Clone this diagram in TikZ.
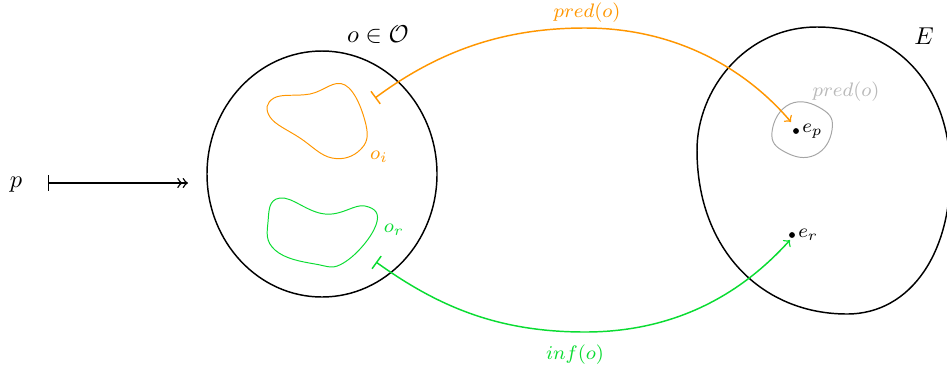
\documentclass[tikz,border=0pt]{standalone}
\usetikzlibrary{arrows}
\definecolor{predorange}{RGB}{255,150,0}
\definecolor{infgreen}{RGB}{10,220,50}
\definecolor{blobgray}{RGB}{165,165,165}
\definecolor{labelgray}{RGB}{185,185,185}
\begin{document}
\begin{tikzpicture}[x=0.41pt,y=-0.41pt,
  outline/.style={black,semithick},
  blob/.style={thin},
  conn/.style={semithick},
  smalllab/.style={font=\footnotesize,inner sep=1pt},
  dotmark/.style={circle,fill=black,inner sep=0pt,minimum size=2.4pt}]
\useasboundingbox (0,0) rectangle (947,368);
% ---- left set O
\draw[outline] (322,174) ellipse [x radius=115, y radius=123];
\node (Olab) at (378,35) {$o\in\mathcal{O}$};
% orange part o_i
\draw[blob,predorange] plot[smooth cycle,tension=0.7] coordinates
  {(274,98) (310,94) (345,85) (366,125) (360,150) (332,158) (300,138) (270,117)};
\node[smalllab,text=predorange] (oi) at (379,157) {$o_i$};
% green part o_r
\draw[blob,infgreen] plot[smooth cycle,tension=0.75] coordinates
  {(280,198) (325,214) (365,206) (376,225) (345,262) (315,264) (275,250) (268,222)};
\node[smalllab,text=infgreen] (or) at (394,230) {$o_r$};
% ---- right set E
\draw[outline] (697,150) .. controls (697,90) and (745,27) .. (817,27)
  .. controls (900,27) and (950,90) .. (950,170)
  .. controls (952,250) and (912,314) .. (847,314)
  .. controls (762,314) and (697,250) .. cycle;
\node (Elab) at (924,36) {$E$};
% pred(o) region
\draw[blob,blobgray] plot[smooth cycle,tension=0.8] coordinates
  {(772,132) (790,104) (822,109) (832,130) (815,155) (785,152)};
\node[smalllab,text=labelgray] (predlab) at (846,92) {$pred(o)$};
\node[dotmark] (ep) at (796,131) {};
\node[smalllab,anchor=west] (eplab) at (ep.east) {$e_p$};
\node[dotmark] (er) at (792,235) {};
\node[smalllab,anchor=west] (erlab) at (er.east) {$e_r$};
% ---- p
\node (p) at (16,185) {$p$};
\coordinate (pstart) at (48,183);
\coordinate (pend) at (188,183);
\draw[conn,|->>] (pstart) -- (pend);
% ---- connectors
\coordinate (oistart) at (375,98);
\coordinate (predpeak) at (585,28);
\coordinate (epend) at (791,122);
\draw[conn,predorange,|->] (oistart) .. controls (440,50) and (505,28) .. (predpeak)
  .. controls (675,28) and (745,68) .. (epend);
\node[smalllab,text=predorange] (predtop) at (587,13) {$pred(o)$};
\coordinate (orstart) at (376,262);
\coordinate (infbottom) at (585,332);
\coordinate (erend) at (790,240);
\draw[conn,infgreen,|->] (orstart) .. controls (440,308) and (500,332) .. (infbottom)
  .. controls (680,332) and (745,290) .. (erend);
\node[smalllab,text=infgreen] (inflab) at (575,355) {$inf(o)$};
\end{tikzpicture}
\end{document}
